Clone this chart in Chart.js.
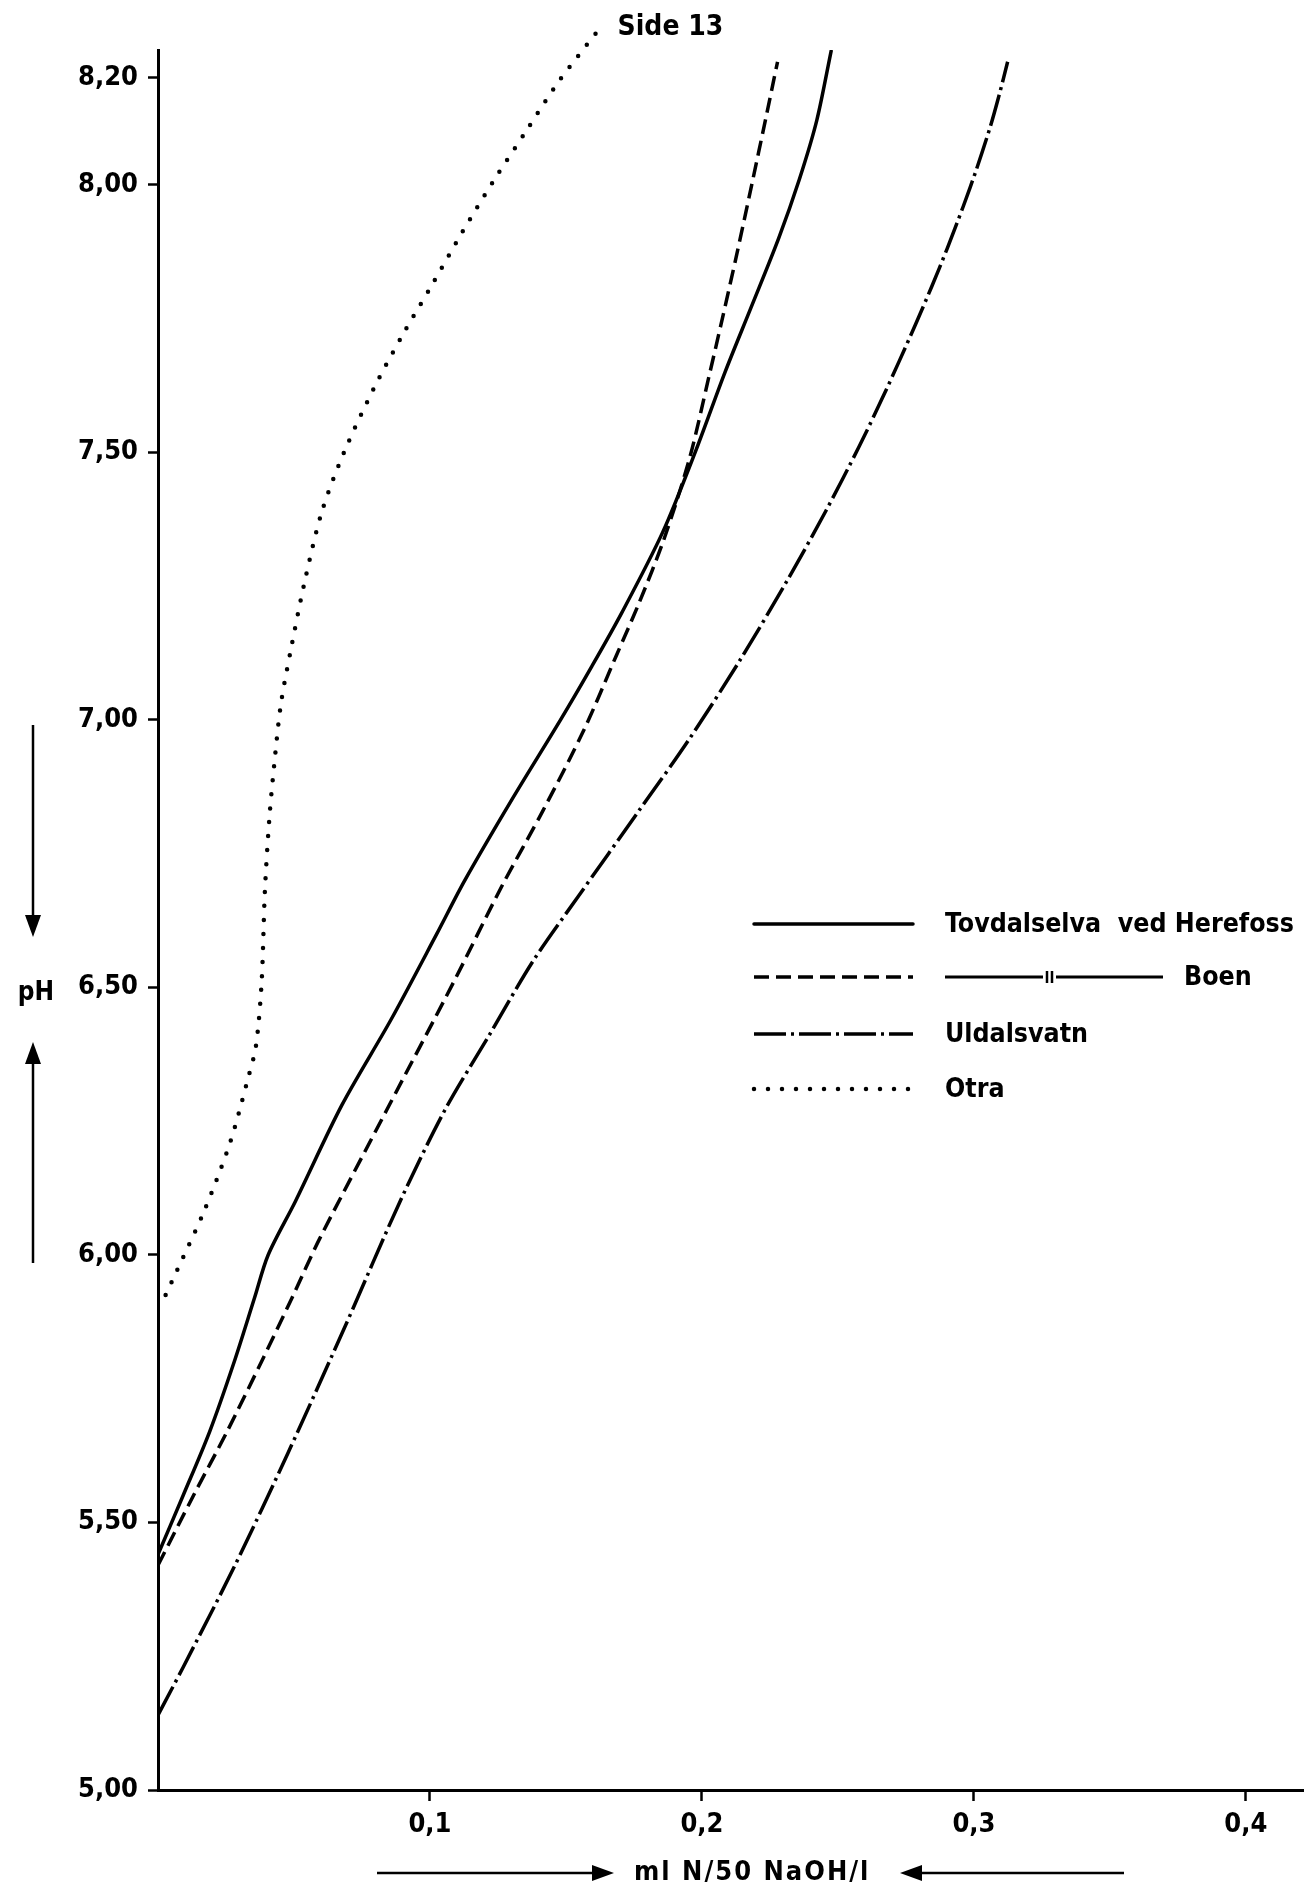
<!DOCTYPE html>
<html>
<head>
<meta charset="utf-8">
<script src="https://cdn.jsdelivr.net/npm/chart.js@4.4.1/dist/chart.umd.min.js"></script>
<style>
  html, body { margin: 0; padding: 0; background: #fff; }
  #wrap { width: 1311px; height: 1889px; position: relative; }
</style>
</head>
<body>
<div id="wrap"><canvas id="titration"></canvas></div>
<script>
// tick values
const phTicks = [5.0, 5.5, 6.0, 6.5, 7.0, 7.5, 8.0, 8.2];
const mlTicks = [0.1, 0.2, 0.3, 0.4];

// Tovdalselva ved Herefoss (solid)
const tovdalPH = [5.44, 5.55, 5.67, 5.80, 5.92, 6.00, 6.10, 6.28, 6.44, 6.60, 6.70, 6.85, 7.00, 7.10, 7.20, 7.35, 7.50, 7.65, 7.77, 7.90, 8.01, 8.12, 8.25];
const tovdalML = [0, 0.0092, 0.019, 0.028, 0.0355, 0.0405, 0.0505, 0.0676, 0.0857, 0.1025, 0.1128, 0.130, 0.148, 0.1595, 0.1705, 0.1855, 0.1975, 0.2085, 0.218, 0.2282, 0.2358, 0.2422, 0.2475];

// Boen (dashed)
const boenPH = [5.42, 5.55, 5.67, 5.80, 5.92, 6.03, 6.27, 6.51, 6.69, 6.83, 6.98, 7.12, 7.22, 7.34, 7.49, 7.64, 7.75, 7.87, 8.00, 8.12, 8.23];
const boenML = [0, 0.013, 0.0254, 0.038, 0.0493, 0.0594, 0.084, 0.1087, 0.1265, 0.1415, 0.1565, 0.1685, 0.177, 0.1862, 0.1955, 0.2025, 0.2075, 0.2128, 0.2183, 0.2233, 0.2278];

// Uldalsvatn (dash-dot)
const uldalPH = [5.14, 5.23, 5.42, 5.63, 5.87, 6.10, 6.27, 6.41, 6.55, 6.67, 6.83, 6.96, 7.11, 7.26, 7.39, 7.51, 7.60, 7.67, 7.74, 7.81, 7.88, 7.96, 8.03, 8.11, 8.17, 8.23];
const uldalML = [0, 0.0093, 0.0283, 0.0478, 0.0691, 0.089, 0.1054, 0.1217, 0.138, 0.1545, 0.1768, 0.1948, 0.2138, 0.2313, 0.2455, 0.2577, 0.2662, 0.2725, 0.2786, 0.2845, 0.2901, 0.2961, 0.301, 0.3061, 0.3094, 0.3124];

// Otra (dotted)
const otraPH = [5.925, 5.97, 6.08, 6.21, 6.33, 6.39, 6.51, 6.68, 6.82, 6.93, 7.03, 7.13, 7.26, 7.39, 7.50, 7.62, 7.72, 7.81, 7.91, 8.01, 8.10, 8.19, 8.29];
const otraML = [0.0028, 0.0069, 0.0168, 0.0265, 0.0331, 0.036, 0.0381, 0.0393, 0.041, 0.043, 0.0452, 0.0488, 0.054, 0.0603, 0.0684, 0.0794, 0.09, 0.1004, 0.1117, 0.1237, 0.1353, 0.1469, 0.162];

const FONT = "'DejaVu Sans Condensed', 'DejaVu Sans', sans-serif";
const INK = '#000';

const toPoints = (ph, ml) => ph.map((p, i) => ({ x: ml[i], y: p }));

function series(label, ph, ml, width, dash, cap, extra) {
  return Object.assign({
    label: label,
    data: toPoints(ph, ml),
    borderColor: INK,
    borderWidth: width,
    borderDash: dash,
    borderCapStyle: cap,
    pointRadius: 0,
    tension: 0.3,
    fill: false
  }, extra || {});
}

function arrow(ctx, x1, y1, x2, y2) {
  const ang = Math.atan2(y2 - y1, x2 - x1);
  const len = 22, half = 8;
  ctx.save();
  ctx.strokeStyle = INK;
  ctx.fillStyle = INK;
  ctx.lineWidth = 2.5;
  ctx.setLineDash([]);
  ctx.beginPath();
  ctx.moveTo(x1, y1);
  ctx.lineTo(x2 - Math.cos(ang) * len * 0.8, y2 - Math.sin(ang) * len * 0.8);
  ctx.stroke();
  ctx.beginPath();
  ctx.moveTo(x2, y2);
  ctx.lineTo(x2 - Math.cos(ang) * len - Math.sin(ang) * half, y2 - Math.sin(ang) * len + Math.cos(ang) * half);
  ctx.lineTo(x2 - Math.cos(ang) * len + Math.sin(ang) * half, y2 - Math.sin(ang) * len - Math.cos(ang) * half);
  ctx.closePath();
  ctx.fill();
  ctx.restore();
}

function sampleLine(ctx, ds, x1, x2, y) {
  ctx.save();
  ctx.strokeStyle = INK;
  ctx.lineWidth = ds.borderWidth;
  ctx.lineCap = ds.borderCapStyle || 'butt';
  ctx.setLineDash(ds.borderDash || []);
  ctx.beginPath();
  ctx.moveTo(x1, y);
  ctx.lineTo(x2, y);
  ctx.stroke();
  ctx.restore();
}

// legend, axis captions and arrows
const extras = {
  id: 'extras',
  afterDraw(chart) {
    const ctx = chart.ctx;
    const sets = chart.data.datasets;
    ctx.save();
    ctx.fillStyle = INK;
    ctx.textBaseline = 'middle';

    // legend
    const rowY = [924, 977, 1034, 1089];
    ctx.font = 'bold 26.5px ' + FONT;
    sets.forEach((ds, i) => {
      sampleLine(ctx, ds, 754, 913, rowY[i]);
      ctx.textAlign = 'left';
      if (ds.ditto) {
        sampleLine(ctx, { borderWidth: 3, borderDash: [] }, 945, 1043, rowY[i]);
        ctx.save();
        ctx.lineWidth = 2.5;
        ctx.strokeStyle = INK;
        [1047, 1052].forEach(x => {
          ctx.beginPath();
          ctx.moveTo(x, rowY[i] - 6);
          ctx.lineTo(x, rowY[i] + 6);
          ctx.stroke();
        });
        ctx.restore();
        sampleLine(ctx, { borderWidth: 3, borderDash: [] }, 1056, 1163, rowY[i]);
        ctx.fillText(ds.label, 1184, rowY[i] + 1);
      } else {
        ctx.fillText(ds.label, 945, rowY[i] + 1);
      }
    });

    // page marker next to the end of the Otra curve
    const xs = chart.scales.x, ys = chart.scales.y;
    const last = otraPH.length - 1;
    const px = xs.getPixelForValue(otraML[last]);
    const py = ys.getPixelForValue(otraPH[last]);
    ctx.textAlign = 'left';
    ctx.font = 'bold 28px ' + FONT;
    ctx.fillText('Side 13', px + 19, py - 2);

    // y caption with arrows
    ctx.textAlign = 'center';
    ctx.font = 'bold 26px ' + FONT;
    ctx.fillText('pH', 36, 993);
    arrow(ctx, 33, 725, 33, 937);
    arrow(ctx, 33, 1263, 33, 1042);

    // x caption with arrows
    ctx.font = 'bold 27px ' + FONT;
    ctx.textAlign = 'left';
    if ('letterSpacing' in ctx) ctx.letterSpacing = '2px';
    ctx.fillText('ml N/50 NaOH/l', 634, 1873);
    if ('letterSpacing' in ctx) ctx.letterSpacing = '0px';
    arrow(ctx, 377, 1873, 614, 1873);
    arrow(ctx, 1124, 1873, 900, 1873);

    ctx.restore();
  }
};

const chart = new Chart(document.getElementById('titration').getContext('2d'), {
  type: 'line',
  data: {
    datasets: [
      series('Tovdalselva  ved Herefoss', tovdalPH, tovdalML, 3.5, [], 'round'),
      series('Boen', boenPH, boenML, 3.5, [15, 7], 'butt', { ditto: true }),
      series('Uldalsvatn', uldalPH, uldalML, 3.5, [32, 5, 3, 5], 'butt'),
      series('Otra', otraPH, otraML, 4.5, [0, 14], 'round', { clip: false })
    ]
  },
  options: {
    responsive: true,
    maintainAspectRatio: false,
    animation: false,
    layout: { padding: { top: 50, right: 8, left: 0, bottom: 0 } },
    plugins: {
      legend: { display: false },
      tooltip: { enabled: false }
    },
    scales: {
      x: {
        type: 'linear',
        min: 0,
        max: 0.421,
        afterBuildTicks: (scale) => { scale.ticks = mlTicks.map(v => ({ value: v })); },
        afterFit: (scale) => { scale.height = 99; },
        border: { display: true, color: INK, width: 3 },
        grid: { display: true, drawOnChartArea: false, drawTicks: true, tickLength: 11, tickWidth: 2.5, tickColor: INK },
        ticks: {
          color: INK,
          padding: 8,
          maxRotation: 0,
          font: { family: FONT, size: 27, weight: 'bold' },
          callback: (v) => v.toFixed(1).replace('.', ',')
        }
      },
      y: {
        type: 'linear',
        min: 5.0,
        max: 8.252,
        afterBuildTicks: (scale) => { scale.ticks = phTicks.map(v => ({ value: v })); },
        afterFit: (scale) => { scale.width = 158; },
        border: { display: true, color: INK, width: 3 },
        grid: { display: true, drawOnChartArea: false, drawTicks: true, tickLength: 10, tickWidth: 2.5, tickColor: INK },
        ticks: {
          color: INK,
          padding: 10,
          font: { family: FONT, size: 27, weight: 'bold' },
          callback: (v) => Number(v).toFixed(2).replace('.', ',')
        }
      }
    }
  },
  plugins: [extras]
});
</script>
</body>
</html>
